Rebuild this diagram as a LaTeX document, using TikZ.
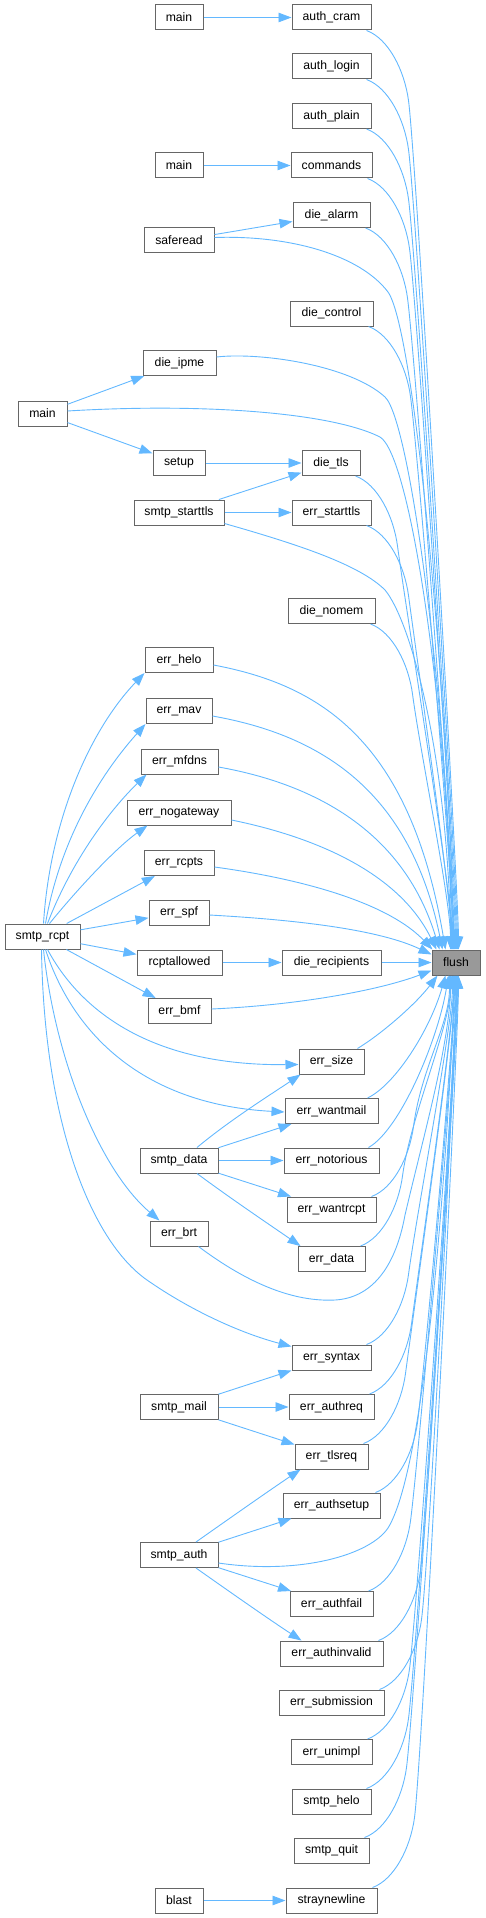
\documentclass[tikz,border=0pt]{standalone}
\usepackage{fontspec}
\setmainfont{Liberation Sans}
\usetikzlibrary{arrows.meta,calc}
\definecolor{edgeblue}{HTML}{63B8FF}
\definecolor{boxgray}{HTML}{666666}
\definecolor{flushfill}{HTML}{999999}
\tikzset{
 box/.style={draw=boxgray, line width=1pt, fill=white, minimum height=25pt, inner sep=0pt, font=\fontsize{12.2}{14}\selectfont},
 edge/.style={draw=edgeblue, line width=0.9pt, -{Triangle[length=13pt,width=9.5pt]}},
}
\newcommand\upfar[2]{%
 \path (#1.south east) ++(-5,0) coordinate (s);
 \draw[edge] (s) .. controls ($(s)+(22,8)$) and ($(s)+(38,40)$) .. ($(s)+(42,70)$) .. controls ($(s)+(50,130)$) and ($(flush.north west)+(#2,-50)$) .. ($(flush.north west)+(#2,0)$);}
\newcommand\lowfar[2]{%
 \path (#1.north east) ++(-5,0) coordinate (s);
 \draw[edge] (s) .. controls ($(s)+(22,-8)$) and ($(s)+(38,-40)$) .. ($(s)+(42,-70)$) .. controls ($(s)+(50,-130)$) and ($(flush.south west)+(#2,50)$) .. ($(flush.south west)+(#2,0)$);}
\begin{document}
\begin{tikzpicture}[x=1pt,y=-1pt]
\useasboundingbox (0,0) rectangle (485,1918);
% right column
\node[box,minimum width=79pt] (authcram) at (331.5,17.5) {auth\_cram};
\node[box,minimum width=79pt] (authlogin) at (331.5,66.5) {auth\_login};
\node[box,minimum width=79pt] (authplain) at (331.5,116) {auth\_plain};
\node[box,minimum width=81pt] (commands) at (331.5,165.5) {commands};
\node[box,minimum width=77pt] (diealarm) at (331.5,215) {die\_alarm};
\node[box,minimum width=83pt] (diecontrol) at (331.5,313.5) {die\_control};
\node[box,minimum width=58pt] (dietls) at (331,463) {die\_tls};
\node[box,minimum width=79pt] (errstarttls) at (331.5,512.5) {err\_starttls};
\node[box,minimum width=87pt] (dienomem) at (331.5,611) {die\_nomem};
\node[box,minimum width=99pt] (dierecip) at (331.5,962.5) {die\_recipients};
\node[box,minimum width=65pt] (errsize) at (331.5,1061.5) {err\_size};
\node[box,minimum width=93pt] (errwantmail) at (331.5,1111) {err\_wantmail};
\node[box,minimum width=95pt] (errnotorious) at (331.5,1160.5) {err\_notorious};
\node[box,minimum width=89pt] (errwantrcpt) at (331.5,1209.5) {err\_wantrcpt};
\node[box,minimum width=67pt] (errdata) at (331.5,1259) {err\_data};
\node[box,minimum width=79pt] (errsyntax) at (331.5,1357.5) {err\_syntax};
\node[box,minimum width=85pt] (errauthreq) at (331.5,1407) {err\_authreq};
\node[box,minimum width=73pt] (errtlsreq) at (331.5,1456.5) {err\_tlsreq};
\node[box,minimum width=97pt] (errauthsetup) at (331.5,1505.5) {err\_authsetup};
\node[box,minimum width=83pt] (errauthfail) at (331.5,1604) {err\_authfail};
\node[box,minimum width=103pt] (errauthinvalid) at (331.5,1653.5) {err\_authinvalid};
\node[box,minimum width=105pt] (errsubmission) at (331.5,1702.5) {err\_submission};
\node[box,minimum width=81pt] (errunimpl) at (331.5,1752) {err\_unimpl};
\node[box,minimum width=79pt] (smtphelo) at (331.5,1801.5) {smtp\_helo};
\node[box,minimum width=75pt] (smtpquit) at (331.5,1850.5) {smtp\_quit};
\node[box,minimum width=91pt] (straynewline) at (331.5,1900.5) {straynewline};
% middle column
\node[box,minimum width=48pt] (mainA) at (179,17.5) {main};
\node[box,minimum width=48pt] (mainB) at (179,165.5) {main};
\node[box,minimum width=70pt] (saferead) at (179,240.5) {saferead};
\node[box,minimum width=73pt] (dieipme) at (179.5,363) {die\_ipme};
\node[box,minimum width=52pt] (setup) at (179,463) {setup};
\node[box,minimum width=90pt] (smtpstarttls) at (179,512.5) {smtp\_starttls};
\node[box,minimum width=68pt] (errhelo) at (179,660) {err\_helo};
\node[box,minimum width=66pt] (errmav) at (179,711) {err\_mav};
\node[box,minimum width=77pt] (errmfdns) at (179.5,761.5) {err\_mfdns};
\node[box,minimum width=104pt] (errnogateway) at (179,812.5) {err\_nogateway};
\node[box,minimum width=70pt] (errrcpts) at (179,863) {err\_rcpts};
\node[box,minimum width=60pt] (errspf) at (179,912.5) {err\_spf};
\node[box,minimum width=85pt] (rcptallowed) at (179.5,962.5) {rcptallowed};
\node[box,minimum width=63pt] (errbmf) at (179.5,1011) {err\_bmf};
\node[box,minimum width=78pt] (smtpdata) at (179,1160.5) {smtp\_data};
\node[box,minimum width=58pt] (errbrt) at (179,1233.5) {err\_brt};
\node[box,minimum width=78pt] (smtpmail) at (179,1407) {smtp\_mail};
\node[box,minimum width=78pt] (smtpauth) at (179,1555) {smtp\_auth};
\node[box,minimum width=48pt] (blast) at (179,1900.5) {blast};
% left column
\node[box,minimum width=49pt] (mainC) at (42.5,413.5) {main};
\node[box,minimum width=75pt] (smtprcpt) at (42.5,936.5) {smtp\_rcpt};
% flush
\node[box,minimum width=48pt,fill=flushfill] (flush) at (456,962.5) {flush};

% straight edges
\draw[edge] (mainA) -- (authcram);
\draw[edge] (mainB) -- (commands);
\draw[edge] (saferead) -- (diealarm);
\draw[edge] (mainC) -- (dieipme);
\draw[edge] (mainC) -- (setup);
\draw[edge] (setup) -- (dietls);
\draw[edge] (smtpstarttls) -- (dietls);
\draw[edge] (smtpstarttls) -- (errstarttls);
\draw[edge] (smtprcpt) -- (errrcpts);
\draw[edge] (smtprcpt) -- (errspf);
\draw[edge] (smtprcpt) -- (rcptallowed);
\draw[edge] (smtprcpt) -- (errbmf);
\draw[edge] (rcptallowed) -- (dierecip);
\draw[edge] (dierecip) -- (flush);
\draw[edge] (smtpdata) -- (errwantmail);
\draw[edge] (smtpdata) -- (errnotorious);
\draw[edge] (smtpdata) -- (errwantrcpt);
\draw[edge] (smtpmail) -- (errsyntax);
\draw[edge] (smtpmail) -- (errauthreq);
\draw[edge] (smtpmail) -- (errtlsreq);
\draw[edge] (smtpauth) -- (errauthsetup);
\draw[edge] (smtpauth) -- (errauthfail);
\draw[edge] (blast) -- (straynewline);

% smtp_rcpt curves
\draw[edge] ($(smtprcpt.north)+(1,0)$) .. controls (50,820) and (90,730) .. (errhelo.south west);
\draw[edge] ($(smtprcpt.north)+(3,0)$) .. controls (60,840) and (100,775) .. (errmav.south west);
\draw[edge] ($(smtprcpt.north)+(5,0)$) .. controls (72,860) and (110,810) .. ($(errmfdns.south west)+(6,0)$);
\draw[edge] ($(smtprcpt.north)+(7,0)$) .. controls (85,880) and (120,845) .. ($(errnogateway.south west)+(21,0)$);
\draw[edge] ($(smtprcpt.south)+(5,0)$) .. controls (80,1010) and (150,1066) .. ($(errsize.west)+(0,3)$);
\draw[edge] ($(smtprcpt.south)+(3,0)$) .. controls (75,1040) and (150,1105) .. ($(errwantmail.west)+(0,1)$);
\draw[edge] ($(smtprcpt.south)+(1,0)$) .. controls (55,1060) and (100,1170) .. ($(errbrt.north west)+(10,0)$);
\draw[edge] ($(smtprcpt.south)+(-1,0)$) .. controls (44,1120) and (90,1240) .. (147,1280) .. controls (190,1310) and (240,1333) .. ($(errsyntax.north west)+(0,2)$);
% smtp_data / smtp_auth curves
\draw[edge] ($(smtpdata.north)+(18,0)$) .. controls (230,1120) and (270,1095) .. ($(errsize.south west)+(2,0)$);
\draw[edge] ($(smtpdata.south)+(18,0)$) .. controls (230,1198) and (270,1225) .. ($(errdata.north west)+(3,0)$);
\draw[edge] ($(smtpauth.north)+(17,0)$) .. controls (230,1518) and (270,1490) .. ($(errtlsreq.south west)+(6,0)$);
\draw[edge] ($(smtpauth.south)+(17,0)$) .. controls (230,1592) and (270,1620) .. ($(errauthinvalid.north west)+(22,0)$);

% edges into flush from above
\upfar{authcram}{27}
\upfar{authlogin}{26}
\upfar{authplain}{25}
\upfar{commands}{24}
\upfar{diealarm}{23}
\upfar{diecontrol}{22}
\upfar{dietls}{21}
\upfar{errstarttls}{20}
\upfar{dienomem}{19}
\draw[edge] ($(saferead.east)+(0,-3)$) .. controls (290,235) and (360,255) .. (388,292) .. controls (415,330) and (448,700) .. ($(flush.north west)+(22.5,0)$);
\draw[edge] ($(dieipme.east)+(0,-6)$) .. controls (260,352) and (350,365) .. (385,397) .. controls (410,420) and (447,700) .. ($(flush.north west)+(21.5,0)$);
\draw[edge] ($(mainC.east)+(0,-2.5)$) .. controls (200,403) and (330,412) .. (380,437) .. controls (410,455) and (447,700) .. ($(flush.north west)+(20.5,0)$);
\draw[edge] ($(smtpstarttls.south east)+(0,-2)$) .. controls (300,545) and (360,565) .. (385,590) .. controls (410,620) and (447,750) .. ($(flush.north west)+(19.5,0)$);
\draw[edge] ($(errhelo.east)+(0,5)$) .. controls (320,685) and (410,740) .. ($(flush.north west)+(14,0)$);
\draw[edge] ($(errmav.east)+(0,5)$) .. controls (320,735) and (410,790) .. ($(flush.north west)+(11,0)$);
\draw[edge] ($(errmfdns.east)+(0,5.5)$) .. controls (320,785) and (405,835) .. ($(flush.north west)+(8,0)$);
\draw[edge] ($(errnogateway.east)+(0,7.5)$) .. controls (320,838) and (400,875) .. ($(flush.north west)+(5,0)$);
\draw[edge] ($(errrcpts.east)+(0,4)$) .. controls (310,880) and (390,905) .. ($(flush.north west)+(1,0)$);
\draw[edge] ($(errspf.east)+(0,2.5)$) .. controls (300,920) and (380,930) .. ($(flush.west)+(0,-8)$);
\draw[edge] ($(errbmf.east)+(0,-2)$) .. controls (300,1005) and (380,990) .. ($(flush.west)+(0,8)$);
% edges into flush from below
\draw[edge] ($(errsize.north east)+(-7,0)$) .. controls (380,1035) and (415,1005) .. ($(flush.south west)+(6,0)$);
\draw[edge] ($(errwantmail.north east)+(-11,0)$) .. controls (395,1085) and (430,1030) .. ($(flush.south west)+(14,0)$);
\draw[edge] ($(errnotorious.north east)+(-11,0)$) .. controls (400,1130) and (438,1040) .. ($(flush.south west)+(17,0)$);
\lowfar{errwantrcpt}{18}
\lowfar{errdata}{19}
\draw[edge] ($(errbrt.south east)+(-10,0)$) .. controls (250,1285) and (295,1302) .. (335,1300) .. controls (370,1298) and (395,1270) .. (405,1215) .. controls (425,1130) and (448,1050) .. ($(flush.south west)+(20,0)$);
\lowfar{errsyntax}{21}
\lowfar{errauthreq}{22}
\lowfar{errtlsreq}{22.5}
\lowfar{errauthsetup}{23}
\draw[edge] ($(smtpauth.east)+(0,8)$) .. controls (300,1575) and (370,1555) .. (388,1528) .. controls (430,1460) and (450,1100) .. ($(flush.south west)+(23.5,0)$);
\lowfar{errauthfail}{24}
\lowfar{errauthinvalid}{24.5}
\lowfar{errsubmission}{25}
\lowfar{errunimpl}{25.5}
\lowfar{smtphelo}{26}
\lowfar{smtpquit}{26.5}
\lowfar{straynewline}{27}
\end{tikzpicture}
\end{document}
